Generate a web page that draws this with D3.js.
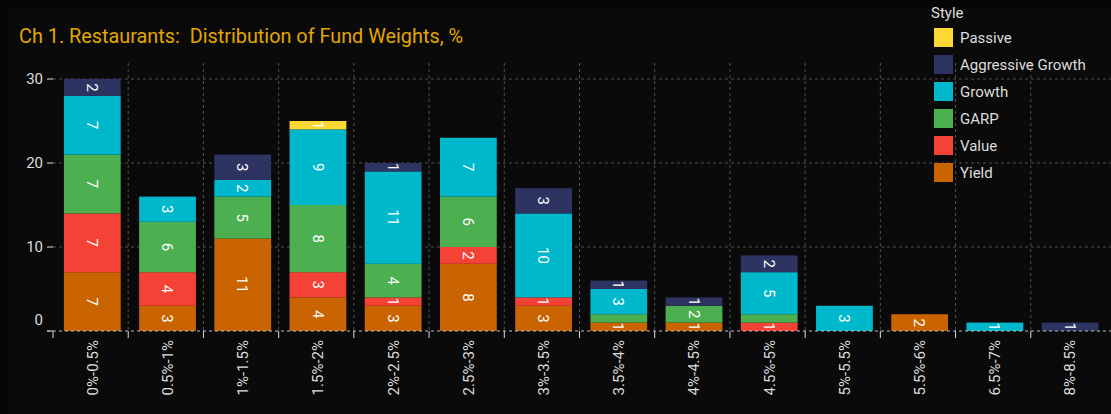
<!DOCTYPE html>
<html>
<head>
<meta charset="utf-8">
<script src="https://cdn.jsdelivr.net/npm/d3@7"></script>
<style>
  html, body { margin: 0; padding: 0; background: #050505; }
  svg { display: block; }
</style>
</head>
<body>
<svg id="chart" width="1111" height="414"></svg>
<script>
const categories = ["0%-0.5%", "0.5%-1%", "1%-1.5%", "1.5%-2%", "2%-2.5%", "2.5%-3%", "3%-3.5%", "3.5%-4%", "4%-4.5%", "4.5%-5%", "5%-5.5%", "5.5%-6%", "6.5%-7%", "8%-8.5%"];
const seriesNames = ["Yield", "Value", "GARP", "Growth", "Aggressive Growth", "Passive"];
const yieldVals   = [7, 3, 11, 4, 3, 8, 3, 1, 1, 0, 0, 2, 0, 0];
const valueVals   = [7, 4, 0, 3, 1, 2, 1, 0, 0, 1, 0, 0, 0, 0];
const garpVals    = [7, 6, 5, 8, 4, 6, 0, 1, 2, 1, 0, 0, 0, 0];
const growthVals  = [7, 3, 2, 9, 11, 7, 10, 3, 0, 5, 3, 0, 1, 0];
const aggVals     = [2, 0, 3, 0, 1, 0, 3, 1, 1, 2, 0, 0, 0, 1];
const passiveVals = [0, 0, 0, 1, 0, 0, 0, 0, 0, 0, 0, 0, 0, 0];
const yTicks = [0, 10, 20, 30];
const legendOrder = ["Passive", "Aggressive Growth", "Growth", "GARP", "Value", "Yield"];
const colors = {
  "Yield": "#c96400",
  "Value": "#f44336",
  "GARP": "#4caf50",
  "Growth": "#00b8cc",
  "Aggressive Growth": "#2d3461",
  "Passive": "#fdd835"
};

const valuesBySeries = {
  "Yield": yieldVals, "Value": valueVals, "GARP": garpVals,
  "Growth": growthVals, "Aggressive Growth": aggVals, "Passive": passiveVals
};
const table = categories.map((c, i) => {
  const row = { cat: c };
  seriesNames.forEach(s => row[s] = valuesBySeries[s][i]);
  return row;
});

const svg = d3.select("#chart");
const W = 1111, H = 414;
const font = "Roboto, 'Noto Sans', sans-serif";

svg.append("rect").attr("x", 8).attr("y", 8).attr("width", W - 8).attr("height", H - 8).attr("fill", "#0a0a0a");

const x = d3.scaleBand().domain(categories).range([53, 1106]).padding(0);
const y = d3.scaleLinear().domain([0, 30]).range([331, 79]);
const plotTop = 63;
const bw = x.bandwidth();
const barOff = bw * 0.145, barW = bw * 0.755;

// title
svg.append("text").attr("x", 19).attr("y", 43)
  .style("white-space", "pre").attr("xml:space", "preserve")
  .attr("fill", "#e3a600").attr("font-family", font).attr("font-size", 21)
  .attr("textLength", 444).attr("lengthAdjust", "spacingAndGlyphs")
  .text("Ch 1. Restaurants:  Distribution of Fund Weights, %");

// grid
const grid = svg.append("g");
yTicks.filter(t => t > 0).forEach(t => {
  grid.append("line").attr("x1", 53).attr("x2", W).attr("y1", y(t)).attr("y2", y(t))
    .attr("stroke", "#505050").attr("stroke-dasharray", "3,3");
});
categories.slice(1).forEach(c => {
  grid.append("line").attr("x1", x(c)).attr("x2", x(c)).attr("y1", plotTop).attr("y2", y(0))
    .attr("stroke", "#505050").attr("stroke-dasharray", "3,3");
});

// bars
const stack = d3.stack().keys(seriesNames)(table);
const gBars = svg.append("g");
stack.forEach(layer => {
  gBars.append("g").attr("fill", colors[layer.key])
    .selectAll("rect").data(layer).join("rect")
    .attr("x", d => x(d.data.cat) + barOff)
    .attr("width", barW)
    .attr("y", d => y(d[1]))
    .attr("height", d => y(d[0]) - y(d[1]));
});

// segment labels with overlap hiding
const gLab = svg.append("g");
categories.forEach((c, i) => {
  let lastY = null;
  stack.forEach(layer => {
    const d = layer[i];
    const v = d[1] - d[0];
    if (v <= 0) return;
    const cy = (y(d[0]) + y(d[1])) / 2;
    if (lastY !== null && Math.abs(lastY - cy) < 10) return;
    lastY = cy;
    const cx = x(c) + barOff + barW / 2;
    gLab.append("text")
      .attr("transform", `translate(${cx},${cy}) rotate(90)`)
      .attr("text-anchor", "middle").attr("dy", "0.36em")
      .attr("fill", "#ffffff").attr("font-family", font).attr("font-size", 15)
      .text(v);
  });
});

// baseline
svg.append("line").attr("x1", 47).attr("x2", W).attr("y1", y(0)).attr("y2", y(0))
  .attr("stroke", "#bbbbbb").attr("stroke-dasharray", "3,3");

// y axis ticks & labels
yTicks.forEach(t => {
  svg.append("line").attr("x1", 47).attr("x2", 53).attr("y1", y(t)).attr("y2", y(t))
    .attr("stroke", "#dddddd");
  svg.append("text").attr("x", 43).attr("y", t === 0 ? y(t) - 11 : y(t))
    .attr("dy", "0.36em").attr("text-anchor", "end")
    .attr("fill", "#dddddd").attr("font-family", font).attr("font-size", 15)
    .text(t);
});

// x axis ticks & labels
categories.forEach(c => {
  svg.append("line").attr("x1", x(c)).attr("x2", x(c)).attr("y1", y(0)).attr("y2", y(0) + 7)
    .attr("stroke", "#dddddd");
  const cx = x(c) + barOff + barW / 2;
  svg.append("text")
    .attr("transform", `translate(${cx},340) rotate(-90)`)
    .attr("text-anchor", "end").attr("dy", "0.36em")
    .attr("fill", "#dddddd").attr("font-family", font).attr("font-size", 15)
    .text(c);
});

// legend
const lg = svg.append("g");
lg.append("text").attr("x", 931).attr("y", 13).attr("dy", "0.36em")
  .attr("fill", "#dddddd").attr("font-family", font).attr("font-size", 15).text("Style");
legendOrder.forEach((s, i) => {
  const cy = 37.5 + i * 27;
  lg.append("rect").attr("x", 934).attr("y", cy - 9.5).attr("width", 19).attr("height", 19)
    .attr("fill", colors[s]);
  lg.append("text").attr("x", 960).attr("y", cy).attr("dy", "0.36em")
    .attr("fill", "#dddddd").attr("font-family", font).attr("font-size", 15).text(s);
});
</script>
</body>
</html>
